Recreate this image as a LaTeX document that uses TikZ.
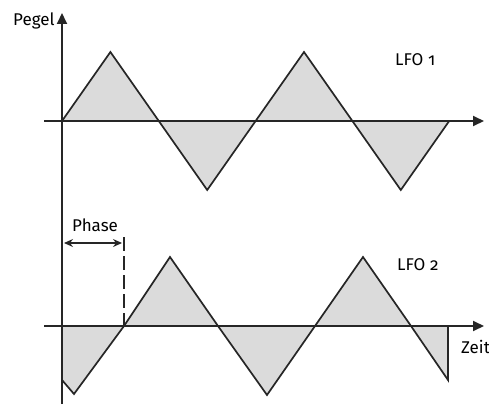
\documentclass[tikz,border=0pt]{standalone}
\usepackage{fontspec}
\setmainfont{Fira Sans}[Numbers=OldStyle]
\usetikzlibrary{arrows.meta}

\begin{document}
\begin{tikzpicture}[x=1pt, y=-1pt,
    axis/.style={line width=1.9pt, draw=black!85, -{Triangle[length=11pt, width=10pt]}},
    wave/.style={line width=1.7pt, draw=black!85, line join=miter},
    area/.style={fill=black!14},
    lbl/.style={anchor=base west, inner sep=0pt, font=\fontsize{17}{20}\selectfont}]
    \useasboundingbox (0,0) rectangle (489,404);

    % LFO 1
    \fill[area] (62,121) -- (110.4,52) -- (158.8,121) -- (207.2,190) -- (255.6,121)
        -- (304,52) -- (352.4,121) -- (400.8,190) -- (449.2,121) -- cycle;
    \draw[wave] (62,121) -- (110.4,52) -- (158.8,121) -- (207.2,190) -- (255.6,121)
        -- (304,52) -- (352.4,121) -- (400.8,190) -- (449.2,121);

    % LFO 2
    \fill[area] (62,326) -- (62,380) -- (74,394) -- (124,326) -- (170,257) -- (218,326)
        -- (267,395) -- (315,326) -- (363,257) -- (411,326) -- (448,380) -- (448,326) -- cycle;
    \draw[wave] (62,380) -- (74,394) -- (124,326) -- (170,257) -- (218,326)
        -- (267,395) -- (315,326) -- (363,257) -- (411,326) -- (448,380) -- (448,326);

    % Achsen
    \coordinate (ybot) at (62,404);
    \coordinate (ytop) at (62,13);
    \coordinate (aL) at (44,121);
    \coordinate (aR) at (484,121);
    \coordinate (bL) at (44,326);
    \coordinate (bR) at (484,326);
    \draw[axis] (ybot) -- (ytop);
    \draw[axis] (aL) -- (aR);
    \draw[axis] (bL) -- (bR);

    % Phase
    \coordinate (phL) at (64,243);
    \coordinate (phR) at (122,243);
    \coordinate (dashT) at (124,237);
    \coordinate (dashB) at (124,326);
    \draw[line width=1.7pt, draw=black!85, dash pattern=on 14pt off 5pt] (dashT) -- (dashB);
    \draw[line width=1.3pt, draw=black!85, {Stealth[length=9pt, width=8pt, inset=3pt]}-{Stealth[length=9pt, width=8pt, inset=3pt]}] (phL) -- (phR);

    % Beschriftung
    \node[lbl] (pegel) at (13,26) {Pegel};
    \node[lbl] (lfoA) at (395,66) {LFO 1};
    \node[lbl] (lfoB) at (397,270) {LFO 2};
    \node[lbl] (phase) at (72,231) {Phase};
    \node[lbl] (zeit) at (461,353) {Zeit};
\end{tikzpicture}
\end{document}
